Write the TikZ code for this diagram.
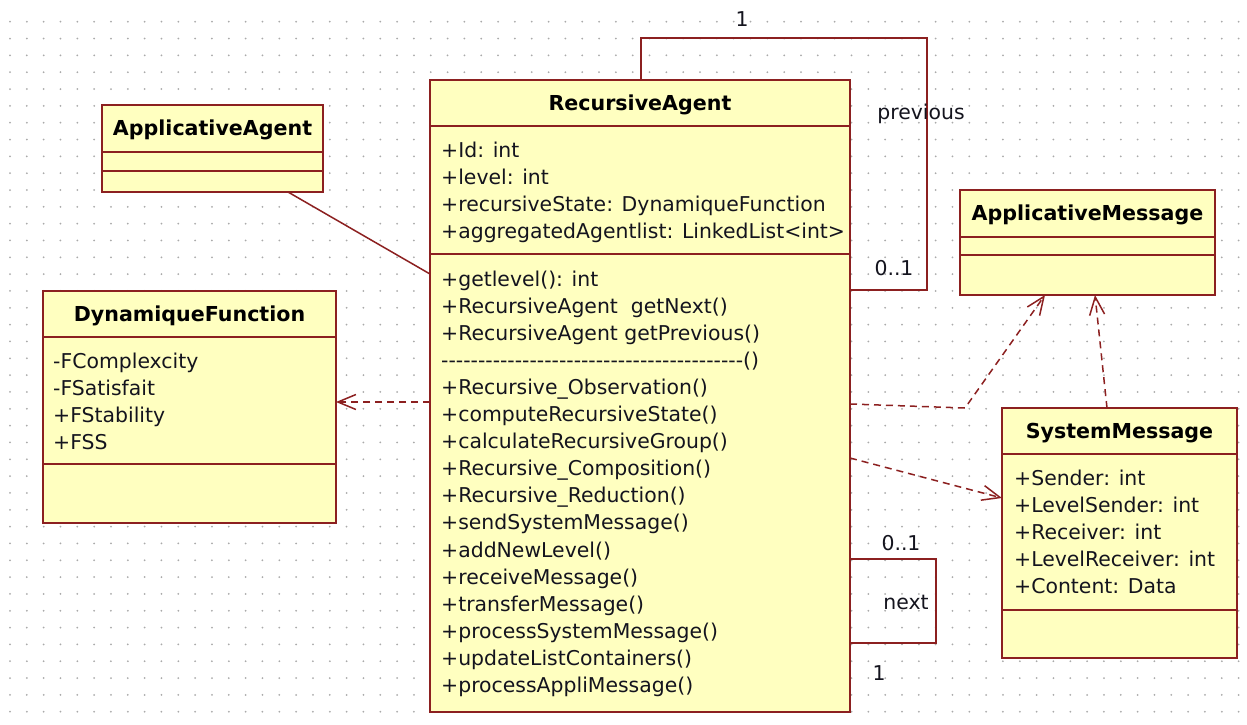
\documentclass[tikz,border=0pt]{standalone}
\usepackage{fontspec}
\setmainfont{DejaVu Sans}
\usetikzlibrary{arrows.meta}
\definecolor{umlline}{RGB}{140,32,32}
\definecolor{umlfill}{RGB}{255,255,192}
\definecolor{umltext}{RGB}{20,20,30}
\definecolor{griddot}{RGB}{170,170,170}

\begin{document}
\begin{tikzpicture}[x=1pt, y=-1pt,
    classbox/.style={draw=umlline, fill=umlfill, line width=2pt, anchor=north west, inner sep=0pt, outer sep=0pt},
    divider/.style={draw=umlline, line width=2pt},
    classname/.style={anchor=base, inner sep=0pt, text=black, font=\fontsize{20.6}{27}\selectfont\bfseries},
    member/.style={anchor=base west, inner sep=0pt, text=umltext, font=\fontsize{20.4}{27}\selectfont},
    mult/.style={anchor=base, inner sep=0pt, text=umltext, font=\fontsize{20.4}{27}\selectfont},
    assoc/.style={draw=umlline, line width=1.5pt},
    dep/.style={assoc, dash pattern=on 7pt off 5pt, -{Straight Barb[length=18pt, width=15pt]}}
  ]
    \newcommand{\dashrow}{\foreach \k in {1,...,41}{-\kern0pt}()}

    \fill[white] (0,0) rectangle (1247,725);
    \useasboundingbox (0,0) rectangle (1247,725);
    \foreach \gx in {0,...,73}
        \foreach \gy in {0,...,41}
            \fill[griddot] (10+16.83*\gx, 21.7+16.83*\gy) circle (1pt);

    \node[classbox, minimum width=221pt, minimum height=87pt] (aa) at (102,105) {};
    \node[classbox, minimum width=420pt, minimum height=632pt] (ra) at (430,80) {};
    \node[classbox, minimum width=293pt, minimum height=232pt] (df) at (43,291) {};
    \node[classbox, minimum width=255pt, minimum height=105pt] (am) at (960,190) {};
    \node[classbox, minimum width=235pt, minimum height=250pt] (sm) at (1002,408) {};

    \foreach \n/\ya/\yb in {aa/152/171, ra/126/254, df/337/464, am/237/255, sm/454/610}{
        \draw[divider] (\n.west |- 0,\ya) -- (\n.east |- 0,\ya);
        \draw[divider] (\n.west |- 0,\yb) -- (\n.east |- 0,\yb);
    }

    \node[classname] (aa-t) at (aa.north |- 0,135) {ApplicativeAgent};
    \node[classname] (ra-t) at (ra.north |- 0,110) {RecursiveAgent};
    \node[classname] (df-t) at (df.north |- 0,321) {DynamiqueFunction};
    \node[classname] (am-t) at (am.north |- 0,220) {ApplicativeMessage};
    \node[classname] (sm-t) at (sm.north |- 0,438) {SystemMessage};

    \foreach \t [count=\i] in {+Id: int, +level: int, +recursiveState: DynamiqueFunction, +aggregatedAgentlist: LinkedList<int>}
        \node[member] (ra-a\i) at (441,157+27*\i-27) {\t};
    \foreach \t [count=\i] in {+getlevel(): int, +RecursiveAgent\ \ getNext(), +RecursiveAgent getPrevious(), \dashrow,
        +Recursive\_Observation(), +computeRecursiveState(), +calculateRecursiveGroup(), +Recursive\_Composition(),
        +Recursive\_Reduction(), +sendSystemMessage(), +addNewLevel(), +receiveMessage(), +transferMessage(),
        +processSystemMessage(), +updateListContainers(), +processAppliMessage()}
        \node[member] (ra-m\i) at (441,286+27.1*\i-27.1) {\t};
    \foreach \t [count=\i] in {-FComplexcity, -FSatisfait, +FStability, +FSS}
        \node[member] (df-a\i) at (53,368+27*\i-27) {\t};
    \foreach \t [count=\i] in {+Sender: int, +LevelSender: int, +Receiver: int, +LevelReceiver: int, +Content: Data}
        \node[member] (sm-a\i) at (1014,485+27*\i-27) {\t};

    \draw[assoc] (aa.south -| 288,0) -- (ra.west |- 0,274);
    \draw[assoc] (ra.north -| 641,0) |- (927,38) |- (ra.east |- 0,290);
    \draw[assoc] (ra.east |- 0,559) -| (936,643) -- (ra.east |- 0,643);

    \draw[dep] (ra.west |- 0,402) -- (df.east |- 0,402);
    \draw[dep] (ra.east |- 0,404) -- (965,408) -- (am.south -| 1045,0);
    \draw[dep] (sm.north -| 1107,0) -- (am.south -| 1095,0);
    \draw[dep] (ra.east |- 0,458) -- (sm.west |- 0,498);

    \node[mult] (prev-one) at (742,27) {1};
    \node[mult] (prev-role) at (921,119) {previous};
    \node[mult] (prev-many) at (894,275) {0..1};
    \node[mult] (next-many) at (901,550) {0..1};
    \node[mult] (next-role) at (906,609) {next};
    \node[mult] (next-one) at (879,680) {1};

\end{tikzpicture}
\end{document}
